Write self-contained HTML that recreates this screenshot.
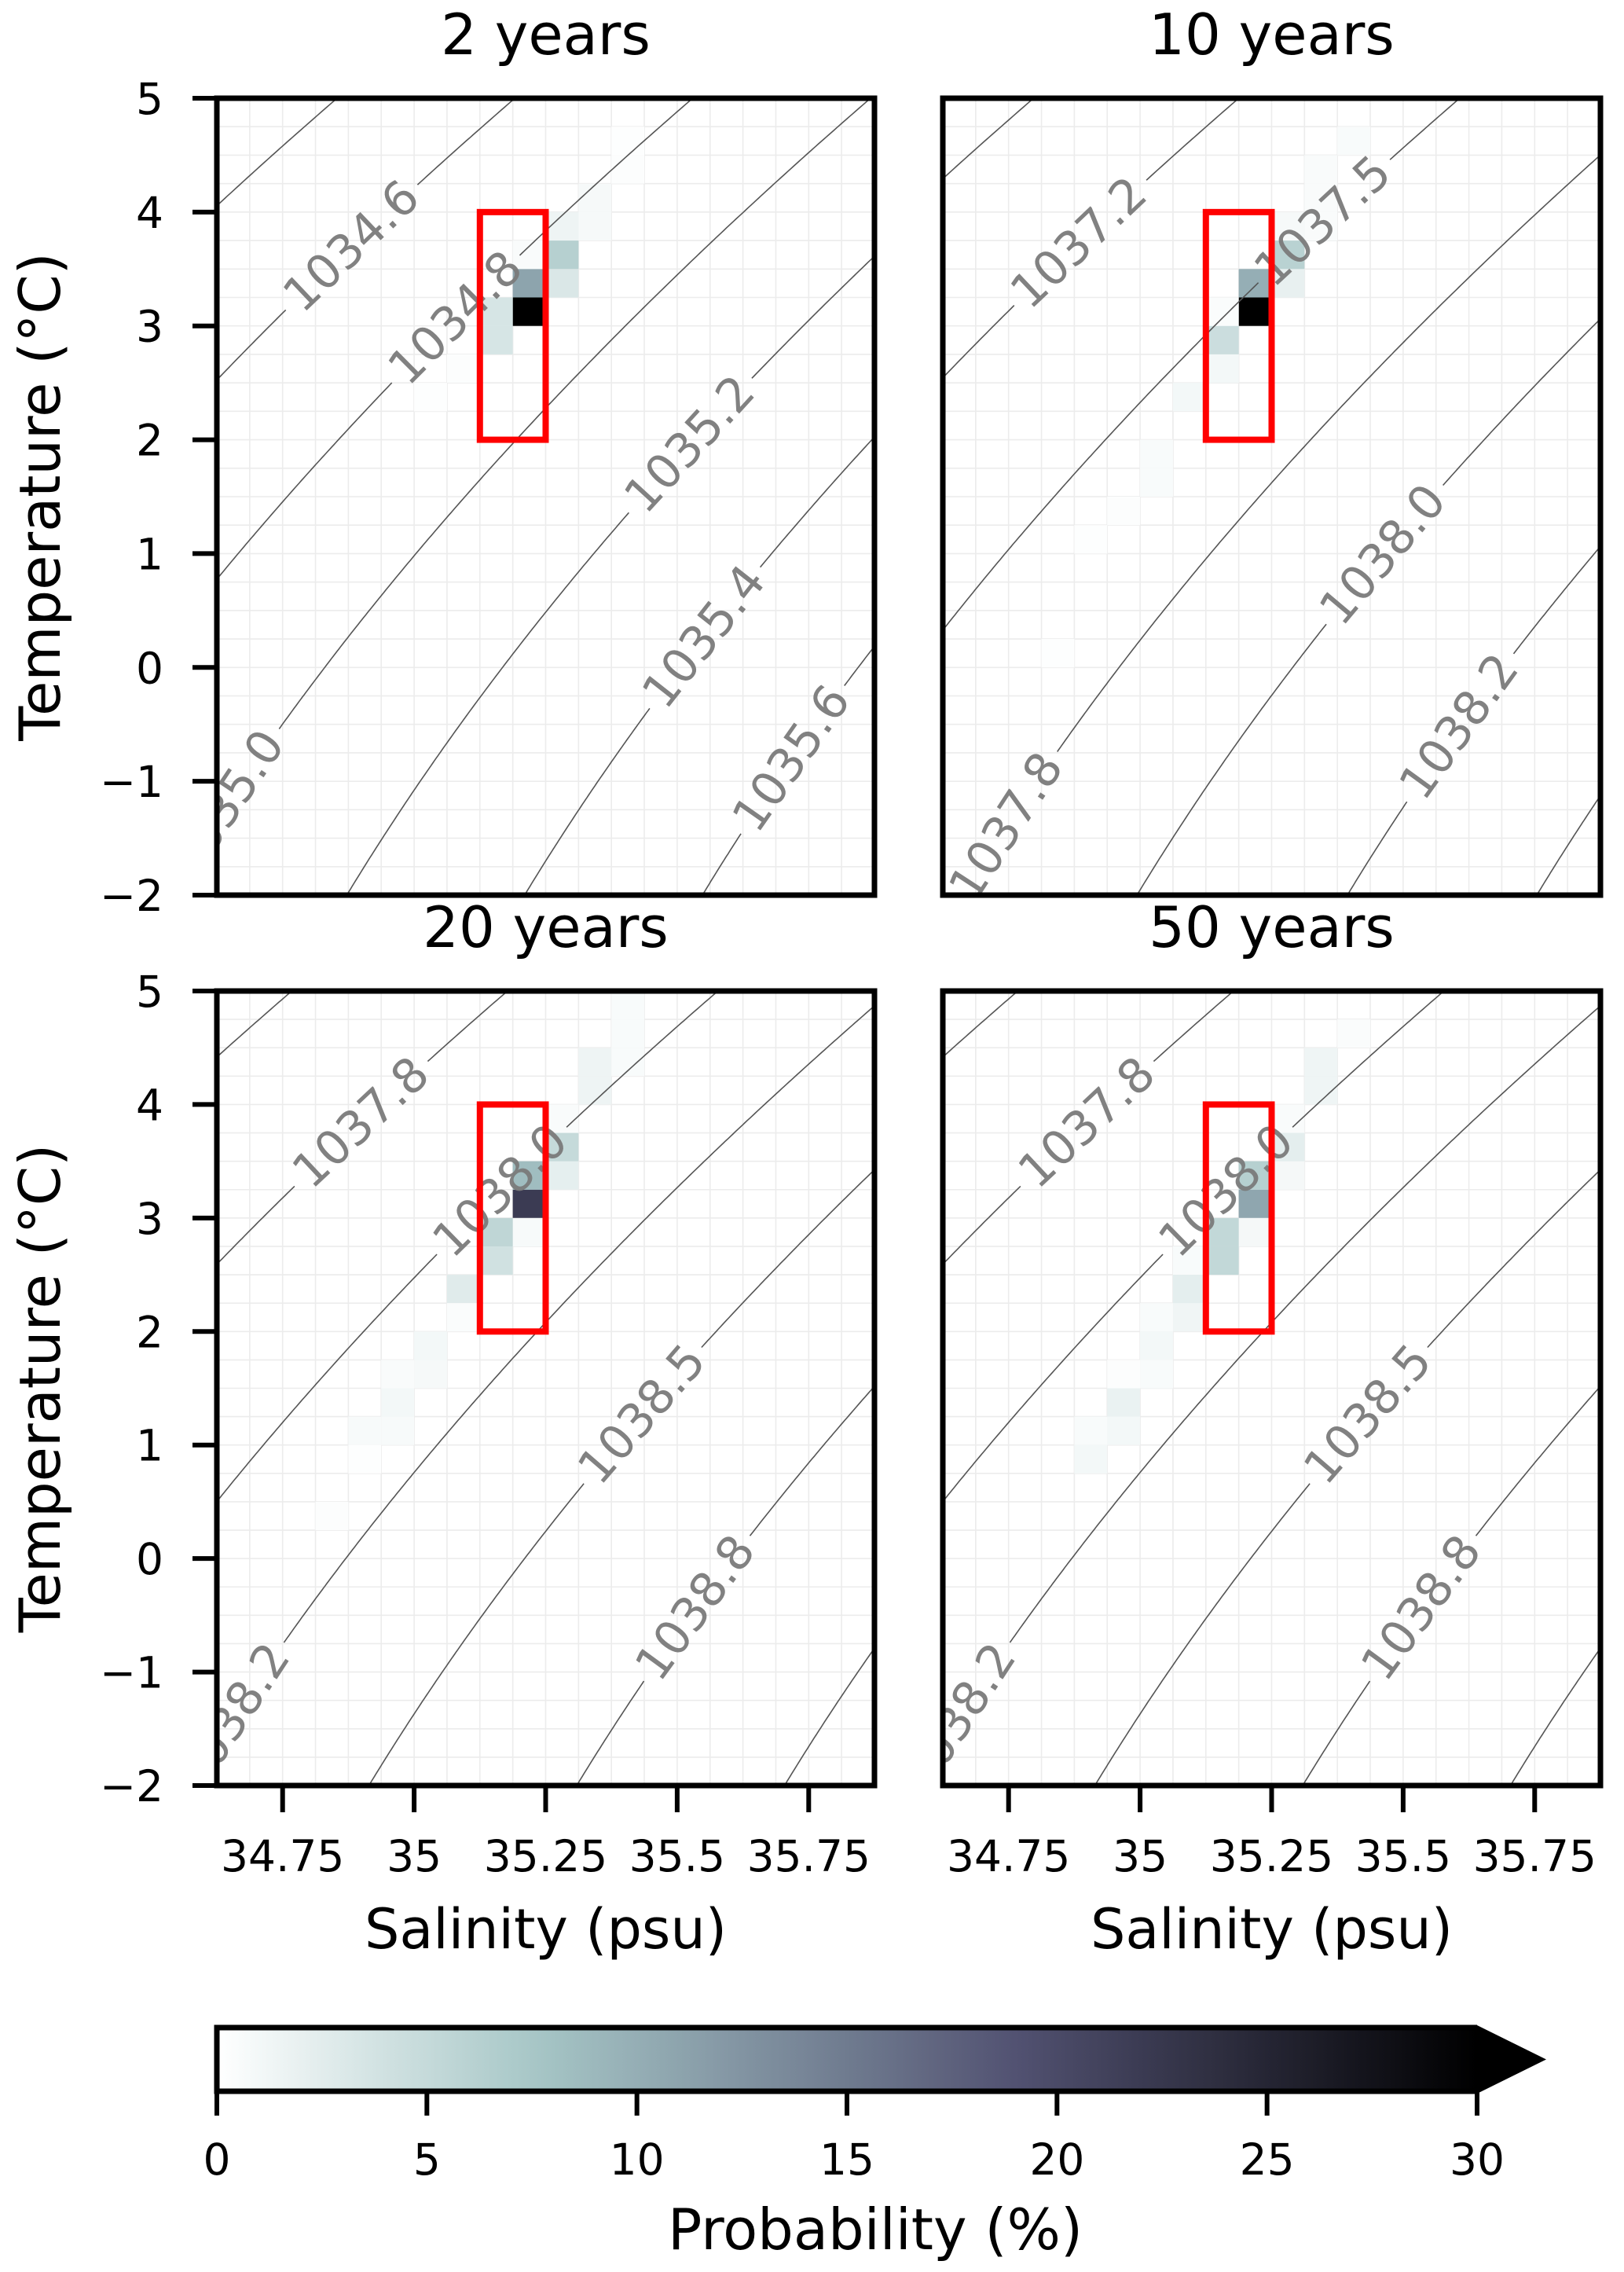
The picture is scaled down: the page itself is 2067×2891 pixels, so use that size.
<!DOCTYPE html>
<html><head><meta charset="utf-8">
<style>
html,body{margin:0;padding:0;background:#fff;}
svg{display:block;font-family:"DejaVu Sans","Liberation Sans",sans-serif;}
</style></head>
<body>
<svg id="fig" xmlns="http://www.w3.org/2000/svg" width="2067" height="2891" viewBox="0 0 2067 2891">
<rect x="0" y="0" width="2067" height="2891" fill="#fff"/>
<defs id="defs"></defs>
</svg>
<script>
// ---- data ----
const panelTitles = ["2 years", "10 years", "20 years", "50 years"];
const xTickValues = [34.75, 35, 35.25, 35.5, 35.75];
const xTickLabels = ["34.75", "35", "35.25", "35.5", "35.75"];
const yTickValues = [-2, -1, 0, 1, 2, 3, 4, 5];
const yTickLabels = ["\u22122", "\u22121", "0", "1", "2", "3", "4", "5"];
const cbTickValues = [0, 5, 10, 15, 20, 25, 30];
const cbTickLabels = ["0", "5", "10", "15", "20", "25", "30"];
// histogram cells: salinity bin start, temperature bin start, probability (%)
const p1S = [35.1875,35.1875,35.125,35.125,35.25,35.25,35.25,35.3125,35.3125,35.1875,35.0625,35.0,35.375,35.375];
const p1T = [3.0,3.25,3.0,2.75,3.25,3.5,3.75,3.75,4.0,3.5,2.5,2.25,4.25,4.5];
const p1P = [32,11,3.5,3.5,3.2,6.3,1.5,0.8,0.8,0.5,0.3,0.2,0.3,0.2];
const p2S = [35.1875,35.1875,35.125,35.125,35.0625,35.25,35.25,35.25,35.3125,35.3125,35.3125,35.375,35.0,35.0,34.9375,34.875,34.8125,35.125];
const p2T = [3.0,3.25,2.75,2.5,2.25,3.25,3.5,3.75,3.75,4.0,4.25,4.5,1.5,1.75,1.25,1.0,0.0,3.0];
const p2P = [32,10,4.5,1,1,2,6,0.8,0.5,0.5,0.5,0.6,0.6,0.6,0.3,0.2,0.2,0.4];
const p3S = [35.1875,35.1875,35.1875,35.125,35.125,35.0625,35.0625,35.0,35.0,34.9375,34.9375,34.875,34.9375,34.875,34.8125,35.25,35.25,35.25,35.3125,35.3125,35.375,35.375,35.375];
const p3T = [3.0,3.25,2.75,2.75,2.5,2.25,2.0,1.75,1.5,1.5,1.25,1.0,1.0,0.75,0.25,3.25,3.5,3.75,4.0,4.25,4.25,4.5,4.75];
const p3P = [22,8.5,0.7,5.5,4,2.7,0.4,1,0.8,0.5,1,0.7,0.7,0.2,0.3,2.2,5,0.5,1.5,1.5,0.6,0.6,0.6];
const p4S = [35.1875,35.1875,35.1875,35.125,35.125,35.0625,35.0625,35.0625,35.0,35.0,35.0,34.9375,34.9375,34.9375,34.875,34.875,35.25,35.25,35.25,35.3125,35.3125,35.375];
const p4T = [3.0,3.25,2.75,2.75,2.5,2.5,2.25,2.0,2.0,1.75,1.5,1.5,1.25,1.0,1.0,0.75,3.25,3.5,3.75,4.0,4.25,4.5];
const p4P = [10.8,6.3,0.9,5.2,5.2,0.6,2.3,1.3,0.6,1,0.6,0.3,1.8,1,0.6,1,0.9,2.3,0.5,1.4,1.4,0.4];
// isopycnal contours: salinity of each line at T=0
const c1Offsets = [33.816,34.154,34.492,34.830,35.168,35.506,35.844,36.182];
const c2Offsets = [33.76,34.15,34.57,34.96,35.29,35.69,36.05];
const c3Offsets = [33.73,34.14,34.54,34.87,35.21,35.605,36.0];
// contour labels: text, line index, temperature position
const l1Text = ["1034.6","1034.8","1035.0","1035.2","1035.4","1035.6"];
const l1Line = [1,2,3,4,5,6];
const l1T = [3.70,3.07,-1.2,1.96,0.27,-0.8];
const l2Text = ["1037.2","1037.5","1037.8","1038.0","1038.2"];
const l2Line = [1,2,3,4,5];
const l2T = [3.73,3.92,-1.4,0.99,-0.52];
const l3Text = ["1037.8","1038.0","1038.2","1038.5","1038.8"];
const l3Line = [1,2,3,4,5];
const l3T = [3.84,3.24,-1.4,1.27,-0.435];

// ---- layout ----
const SVGNS = "http://www.w3.org/2000/svg";
const svg = document.getElementById('fig');
const defs = document.getElementById('defs');
const S_MIN = 34.625, S_MAX = 35.875, T_MIN = -2, T_MAX = 5;
const CA = 0.165, CB = 0.0085; // isopycnal shape
const LABEL_FS = 60;
const panels = [
  {x0:276, x1:1113, y0:125, y1:1139, cells:[p1S,p1T,p1P], offs:c1Offsets, lt:l1Text, ll:l1Line, lT:l1T, xt:false, yt:true},
  {x0:1200, x1:2037, y0:125, y1:1139, cells:[p2S,p2T,p2P], offs:c2Offsets, lt:l2Text, ll:l2Line, lT:l2T, xt:false, yt:false},
  {x0:276, x1:1113, y0:1261, y1:2272, cells:[p3S,p3T,p3P], offs:c3Offsets, lt:l3Text, ll:l3Line, lT:l3T, xt:true, yt:true},
  {x0:1200, x1:2037, y0:1261, y1:2272, cells:[p4S,p4T,p4P], offs:c3Offsets, lt:l3Text, ll:l3Line, lT:l3T, xt:true, yt:false}
];

function el(tag, attrs, parent){
  const e = document.createElementNS(SVGNS, tag);
  for (const k in attrs) e.setAttribute(k, attrs[k]);
  (parent||svg).appendChild(e);
  return e;
}
function bone(x){
  let r = x<0.746 ? 0.652/0.746*x : 0.652+(x-0.746)*(0.348/0.254);
  let g = x<0.365 ? 0.319/0.365*x : (x<0.746 ? 0.319+(x-0.365)*(0.458/0.381) : 0.777+(x-0.746)*(0.223/0.254));
  let b = x<0.365 ? 0.444/0.365*x : 0.444+(x-0.365)*(0.556/0.635);
  const f = v => Math.round(Math.max(0,Math.min(1,v))*255);
  return `rgb(${f(r)},${f(g)},${f(b)})`;
}
function cmap(p){ return bone(1 - Math.min(p,30)/30); }
function contourS(off, T){ return off + CA*T + CB*T*T; }

panels.forEach((P, pi) => {
  const xs = s => P.x0 + (s - S_MIN)/(S_MAX - S_MIN)*(P.x1 - P.x0);
  const ys = t => P.y1 - (t - T_MIN)/(T_MAX - T_MIN)*(P.y1 - P.y0);
  const g = el('g', {});
  
  
  const cp = el('clipPath', {id:'clip'+pi}, defs);
  el('rect', {x:P.x0, y:P.y0, width:P.x1-P.x0, height:P.y1-P.y0}, cp);

  const grid = el('g', {stroke:'#ececec', 'stroke-width':1.6}, g);
  
  
  for (let s = S_MIN; s <= S_MAX + 1e-9; s += 0.0625) el('line', {x1:xs(s), x2:xs(s), y1:P.y0, y2:P.y1}, grid);
  for (let t = T_MIN; t <= T_MAX + 1e-9; t += 0.25) el('line', {x1:P.x0, x2:P.x1, y1:ys(t), y2:ys(t)}, grid);

  const cg = el('g', {'clip-path':`url(#clip${pi})`}, g);
  
  
  const [cs, ct, cpv] = P.cells;
  for (let i = 0; i < cs.length; i++){
    const r = el('rect', {x:xs(cs[i]), y:ys(ct[i]+0.25), width:xs(cs[i]+0.0625)-xs(cs[i]), height:ys(ct[i])-ys(ct[i]+0.25), fill:cmap(cpv[i])}, cg);
    
    
  }

  const lg = el('g', {'clip-path':`url(#clip${pi})`}, g);
  
  
  const labelCenters = P.ll.map((li, k) => {
    const T = P.lT[k];
    return {line:li, x:xs(contourS(P.offs[li], T)), y:ys(T), T:T, text:P.lt[k]};
  });
  P.offs.forEach((off, li) => {
    let segs = [], cur = [];
    for (let T = -2.6; T <= 5.6; T += 0.02){
      const px = xs(contourS(off, T)), py = ys(T);
      let hidden = false;
      labelCenters.forEach(L => {
        if (L.line === li){
          const hw = L.text.length * 0.55 * LABEL_FS / 2 + 14;
          if (Math.hypot(px - L.x, py - L.y) < hw) hidden = true;
        }
      });
      if (hidden){ if (cur.length) segs.push(cur); cur = []; }
      else cur.push(px.toFixed(1)+','+py.toFixed(1));
    }
    if (cur.length) segs.push(cur);
    segs.forEach(sg => {
      if (sg.length < 2) return;
      const pl = el('polyline', {points:sg.join(' '), fill:'none', stroke:'#555', 'stroke-width':1.6}, lg);
      
      
    });
  });
  labelCenters.forEach(L => {
    const dSdT = CA + 2*CB*L.T;
    const pxS = (P.x1-P.x0)/(S_MAX-S_MIN), pxT = (P.y1-P.y0)/(T_MAX-T_MIN);
    const ang = Math.atan2(pxT, pxS*dSdT) * 180/Math.PI;
    const cx = L.x, cy = L.y;
    const t = el('text', {x:cx, y:cy, 'font-size':LABEL_FS, fill:'#7a7a7a', 'fill-opacity':0.95, 'text-anchor':'middle', 'dominant-baseline':'central', transform:`rotate(${-ang} ${cx} ${cy})`}, lg);
    t.textContent = L.text;
    
    
  });

  const box = el('rect', {x:xs(35.125), y:ys(4), width:xs(35.25)-xs(35.125), height:ys(2)-ys(4), fill:'none', stroke:'#ff0000', 'stroke-width':8}, g);
  
  

  const fr = el('rect', {x:P.x0, y:P.y0, width:P.x1-P.x0, height:P.y1-P.y0, fill:'none', stroke:'#000', 'stroke-width':7}, g);
  
  

  const ti = el('text', {x:(P.x0+P.x1)/2, y:P.y0-56, 'font-size':72, 'text-anchor':'middle', fill:'#000'}, g);
  ti.textContent = panelTitles[pi];
  
  

  if (P.yt){
    yTickValues.forEach((v, k) => {
      el('line', {x1:P.x0-31, x2:P.x0, y1:ys(v), y2:ys(v), stroke:'#000', 'stroke-width':6}, g);
      const tl = el('text', {x:P.x0-68, y:ys(v)+20, 'font-size':55, 'text-anchor':'end'}, g);
      tl.textContent = yTickLabels[k];
      
      
    });
    const yl = el('text', {x:0, y:0, 'font-size':72, 'text-anchor':'middle', transform:`translate(76 ${(P.y0+P.y1)/2}) rotate(-90)`}, g);
    yl.textContent = "Temperature (\u00B0C)";
    
    
  }
  if (P.xt){
    xTickValues.forEach((v, k) => {
      el('line', {x1:xs(v), x2:xs(v), y1:P.y1, y2:P.y1+34, stroke:'#000', 'stroke-width':6}, g);
      const tl = el('text', {x:xs(v), y:P.y1+109, 'font-size':55, 'text-anchor':'middle'}, g);
      tl.textContent = xTickLabels[k];
      
      
    });
    const xl = el('text', {x:(P.x0+P.x1)/2, y:P.y1+207, 'font-size':70, 'text-anchor':'middle'}, g);
    xl.textContent = "Salinity (psu)";
    
    
  }
});

// ---- colorbar ----
const CB0 = 276, CB1 = 1880, CBY0 = 2580, CBY1 = 2661, CBTIP = 1968;
const cbx = v => CB0 + v/30*(CB1-CB0);
const grad = el('linearGradient', {id:'cbgrad', x1:0, x2:1, y1:0, y2:0}, defs);
for (let k = 0; k <= 30; k++) el('stop', {offset:(k/30).toFixed(3), 'stop-color':cmap(k)}, grad);
const cbg = el('g', {});


el('rect', {x:CB0, y:CBY0, width:CB1-CB0, height:CBY1-CBY0, fill:'url(#cbgrad)'}, cbg);
const arrow = el('polygon', {points:`${CB1},${CBY0-3} ${CBTIP},${(CBY0+CBY1)/2} ${CB1},${CBY1+3}`, fill:'#000'}, cbg);


el('polyline', {points:`${CB1},${CBY0} ${CB0},${CBY0} ${CB0},${CBY1} ${CB1},${CBY1}`, fill:'none', stroke:'#000', 'stroke-width':7}, cbg);
cbTickValues.forEach((v, k) => {
  el('line', {x1:cbx(v), x2:cbx(v), y1:CBY1, y2:CBY1+31, stroke:'#000', 'stroke-width':6}, cbg);
  const t = el('text', {x:cbx(v), y:2767, 'font-size':55, 'text-anchor':'middle'}, cbg);
  t.textContent = cbTickLabels[k];
  
  
});
const cbl = el('text', {x:1114, y:2862, 'font-size':72, 'text-anchor':'middle'}, cbg);
cbl.textContent = "Probability (%)";


</script>
</body></html>
